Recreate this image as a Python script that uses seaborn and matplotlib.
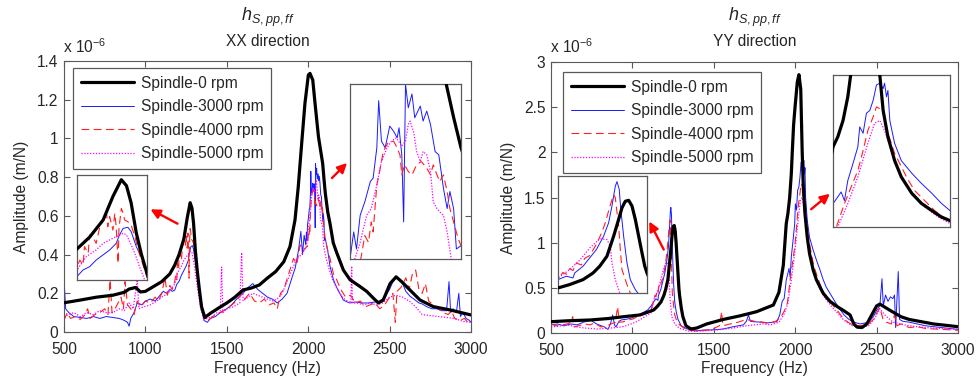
import numpy as np
import pandas as pd
import matplotlib
matplotlib.use('Agg')
import matplotlib.pyplot as plt
import seaborn as sns
from matplotlib.ticker import FuncFormatter, MultipleLocator

# 样式
sns.set_style('ticks')
plt.rcParams['font.family'] = ['Liberation Sans', 'DejaVu Sans']
plt.rcParams['mathtext.fontset'] = 'custom'
plt.rcParams['mathtext.rm'] = 'Liberation Sans'
plt.rcParams['mathtext.it'] = 'Liberation Sans:italic'

labels = ['Spindle-0 rpm', 'Spindle-3000 rpm', 'Spindle-4000 rpm', 'Spindle-5000 rpm']

# ---- XX 方向 (频率 Hz, 幅值 x 1e-6 m/N) ----
xx_0 = [(500,0.151),(600,0.165),(700,0.18),(800,0.19),(870,0.205),(900,0.222),(940,0.23),(970,0.207),
        (1000,0.21),(1050,0.235),(1100,0.26),(1150,0.30),(1180,0.345),(1207,0.40),(1236,0.48),(1257,0.59),
        (1275,0.668),(1286,0.64),(1296,0.56),(1307,0.42),(1318,0.32),(1330,0.23),(1345,0.13),(1365,0.075),
        (1400,0.097),(1450,0.124),(1500,0.15),(1550,0.18),(1600,0.217),(1650,0.227),(1700,0.243),(1750,0.279),
        (1800,0.312),(1850,0.363),(1888,0.441),(1919,0.579),(1939,0.751),(1960,0.975),(1980,1.181),(2001,1.328),
        (2011,1.336),(2028,1.302),(2042,1.181),(2063,1.009),(2089,0.87),(2097,0.79),(2105,0.717),(2120,0.62),
        (2134,0.56),(2154,0.46),(2175,0.41),(2216,0.32),(2257,0.27),(2318,0.235),(2359,0.21),(2400,0.175),
        (2431,0.15),(2461,0.165),(2503,0.25),(2540,0.285),(2574,0.26),(2625,0.217),(2687,0.165),(2769,0.131),
        (2871,0.114),(3000,0.088)]

xx_3000 = [(500,0.28),(510,0.12),(530,0.10),(560,0.08),(600,0.075),(640,0.07),(680,0.08),(720,0.07),(760,0.08),
           (800,0.075),(840,0.07),(870,0.06),(890,0.05),(900,0.03),(910,0.07),(930,0.10),(950,0.15),(980,0.14),
           (1000,0.16),(1030,0.17),(1060,0.16),(1090,0.19),(1110,0.21),(1130,0.20),(1150,0.22),(1165,0.21),
           (1180,0.216),(1193,0.247),(1207,0.262),(1221,0.293),(1236,0.317),(1250,0.34),(1264,0.371),(1271,0.41),
           (1279,0.441),(1289,0.446),(1296,0.426),(1307,0.356),(1318,0.309),(1330,0.231),
           (1345,0.12),(1360,0.06),(1380,0.05),(1400,0.07),(1430,0.08),(1460,0.10),(1500,0.12),(1530,0.14),
           (1560,0.17),(1600,0.20),(1630,0.23),(1660,0.25),(1690,0.22),(1720,0.20),(1750,0.18),(1780,0.17),
           (1810,0.15),(1840,0.17),(1870,0.20),(1900,0.28),(1920,0.33),(1940,0.42),(1955,0.52),(1965,0.40),(1975,0.50),
           (1985,0.45),(1989,0.515),(1992,0.474),(1996,0.555),(2001,0.587),(2007,0.636),(2010,0.644),(2014,0.717),
           (2016,0.83),(2019,0.733),(2023,0.717),(2028,0.769),(2032,0.757),(2036,0.741),(2038,0.765),(2041,0.70),
           (2043,0.539),(2045,0.87),(2048,0.813),(2052,0.846),(2055,0.789),(2061,0.817),(2064,0.781),(2068,0.805),
           (2072,0.773),(2077,0.708),(2081,0.70),(2086,0.62),(2090,0.571),(2093,0.612),(2097,0.571),(2100,0.474),
           (2105,0.482),
           (2120,0.42),(2134,0.34),(2155,0.27),(2175,0.23),(2200,0.19),(2216,0.165),(2240,0.155),(2257,0.15),
           (2290,0.155),(2330,0.15),(2370,0.15),(2410,0.155),(2440,0.16),(2470,0.18),(2500,0.22),(2520,0.26),
           (2540,0.28),(2560,0.27),(2580,0.25),(2600,0.21),(2625,0.185),(2650,0.17),(2680,0.15),(2700,0.145),
           (2730,0.13),(2760,0.12),(2790,0.12),(2820,0.11),(2850,0.11),(2865,0.26),(2875,0.10),(2890,0.12),
           (2910,0.10),(2925,0.20),(2935,0.08),(2950,0.10),(2970,0.07),(2990,0.06),(3000,0.05)]

xx_4000 = [(500,0.06),(520,0.10),(540,0.07),(570,0.08),(600,0.065),(630,0.09),(645,0.12),(660,0.07),(690,0.09),
           (720,0.10),(750,0.12),(770,0.09),(783,0.27),(795,0.10),(820,0.13),(850,0.18),(865,0.12),(875,0.26),
           (890,0.14),(910,0.12),(930,0.09),(950,0.16),(970,0.13),(1000,0.16),(1030,0.15),(1060,0.18),(1080,0.16),
           (1100,0.20),(1120,0.28),(1135,0.19),(1150,0.24),(1165,0.22),
           (1180,0.262),(1186,0.293),(1193,0.27),(1196,0.356),(1204,0.325),(1207,0.41),(1214,0.402),(1221,0.371),
           (1229,0.449),(1236,0.48),(1243,0.519),(1246,0.449),(1250,0.496),(1257,0.433),(1261,0.511),(1264,0.449),
           (1268,0.278),(1270,0.441),(1275,0.534),(1279,0.511),(1282,0.48),(1289,0.472),(1296,0.457),(1304,0.402),
           (1311,0.34),(1318,0.293),(1325,0.247),(1330,0.216),
           (1345,0.15),(1360,0.07),(1380,0.06),(1400,0.07),(1430,0.09),(1460,0.10),(1500,0.12),(1530,0.14),
           (1560,0.16),(1590,0.20),(1610,0.17),(1640,0.20),(1670,0.16),(1700,0.15),(1730,0.17),(1760,0.14),
           (1790,0.15),(1810,0.12),(1830,0.20),(1850,0.22),(1880,0.30),(1910,0.38),(1930,0.35),(1950,0.45),
           (1970,0.42),(1990,0.44),
           (1996,0.442),(2001,0.506),(2005,0.49),(2008,0.539),(2010,0.515),(2014,0.628),(2017,0.66),(2021,0.708),
           (2026,0.729),(2032,0.733),(2035,0.721),(2039,0.70),(2041,0.652),(2044,0.676),(2048,0.66),(2052,0.652),
           (2057,0.676),(2062,0.684),(2068,0.668),(2072,0.652),(2075,0.676),(2079,0.652),(2082,0.636),(2086,0.652),
           (2090,0.612),(2093,0.571),(2098,0.531),(2102,0.498),(2105,0.482),
           (2120,0.42),(2134,0.38),(2155,0.30),(2175,0.27),(2200,0.22),(2230,0.18),(2260,0.19),(2290,0.15),
           (2320,0.16),(2350,0.13),(2380,0.14),(2410,0.15),(2440,0.12),(2470,0.14),(2500,0.18),(2520,0.20),
           (2535,0.05),(2545,0.21),(2570,0.23),(2600,0.28),(2620,0.22),(2640,0.30),(2660,0.32),(2680,0.22),
           (2700,0.20),(2720,0.25),(2740,0.16),(2770,0.14),(2800,0.12),(2830,0.10),(2860,0.09),(2880,0.11),
           (2900,0.07),(2930,0.06),(2960,0.07),(2980,0.05),(3000,0.05)]

xx_5000 = [(500,0.08),(530,0.09),(560,0.10),(600,0.08),(640,0.10),(680,0.09),(720,0.11),(760,0.10),(800,0.10),
           (840,0.12),(870,0.11),(900,0.15),(925,0.12),(950,0.27),(960,0.12),(990,0.13),(1030,0.14),(1070,0.16),
           (1100,0.18),(1140,0.20),(1165,0.23),
           (1180,0.247),(1200,0.309),(1221,0.34),(1236,0.371),(1250,0.387),(1264,0.402),(1279,0.418),(1286,0.41),
           (1293,0.379),(1304,0.324),(1314,0.262),(1325,0.20),
           (1340,0.12),(1360,0.06),(1380,0.07),(1410,0.08),(1440,0.10),(1460,0.10),(1468,0.335),(1476,0.10),
           (1500,0.12),(1540,0.13),(1580,0.15),(1591,0.41),(1600,0.16),(1630,0.18),(1660,0.20),(1690,0.19),
           (1720,0.18),(1750,0.17),(1780,0.16),(1810,0.17),(1840,0.20),(1870,0.26),(1900,0.32),(1930,0.38),
           (1960,0.40),(1980,0.43),
           (1989,0.442),(1996,0.49),(2003,0.555),(2008,0.571),(2014,0.628),(2019,0.684),(2025,0.717),(2030,0.733),
           (2035,0.741),(2041,0.721),(2045,0.733),(2048,0.773),(2050,0.781),(2054,0.753),(2057,0.708),(2061,0.684),
           (2064,0.708),(2068,0.70),(2072,0.66),(2075,0.587),(2079,0.571),(2082,0.563),(2086,0.555),(2090,0.515),
           (2095,0.442),
           (2110,0.38),(2130,0.32),(2150,0.27),(2180,0.22),(2210,0.18),(2240,0.16),(2262,0.15),(2267,0.34),
           (2272,0.15),(2300,0.15),(2340,0.14),(2380,0.15),(2420,0.14),(2460,0.15),(2500,0.18),(2540,0.19),
           (2580,0.18),(2620,0.16),(2660,0.13),(2700,0.09),(2750,0.085),(2800,0.08),(2850,0.075),(2900,0.07),
           (2950,0.055),(3000,0.05)]

# ---- YY 方向 ----
yy_0 = [(500,0.125),(600,0.135),(740,0.144),(850,0.16),(944,0.18),(1047,0.20),(1108,0.24),(1130,0.254),
        (1151,0.29),(1175,0.343),(1193,0.414),(1205,0.486),(1218,0.593),(1230,0.807),(1239,0.986),(1245,1.11),
        (1251,1.18),(1257,1.19),(1263,1.13),(1269,0.986),(1275,0.807),(1281,0.629),(1286,0.486),(1290,0.414),
        (1300,0.28),(1310,0.18),(1329,0.08),(1360,0.045),(1395,0.055),(1456,0.10),(1558,0.15),(1661,0.19),
        (1763,0.236),(1866,0.31),(1900,0.45),(1927,0.75),(1945,1.21),(1955,1.32),(1966,1.50),(1976,1.76),
        (1982,2.0),(1990,2.3),(1999,2.5),(2013,2.78),(2023,2.86),(2034,2.70),(2043,2.0),(2050,1.61),
        (2060,1.32),(2074,1.06),(2088,0.88),(2110,0.70),(2130,0.59),(2152,0.51),(2172,0.44),(2190,0.40),
        (2214,0.35),(2260,0.29),(2296,0.25),(2337,0.20),(2360,0.10),(2380,0.065),(2410,0.06),(2440,0.10),
        (2470,0.20),(2500,0.30),(2520,0.32),(2583,0.25),(2650,0.18),(2700,0.15),(2850,0.10),(3000,0.07)]

yy_3000 = [(500,0.09),(540,0.10),(580,0.08),(623,0.10),(660,0.09),(700,0.12),(746,0.14),(780,0.10),(828,0.067),
           (850,0.04),(865,0.10),(879,0.20),(890,0.09),(899,0.067),(915,0.12),(930,0.144),(971,0.155),(1000,0.17),
           (1033,0.20),(1060,0.22),(1094,0.255),(1115,0.30),
           (1130,0.343),(1145,0.379),(1157,0.361),(1160,0.414),(1175,0.486),(1187,0.575),(1199,0.664),(1212,0.807),
           (1221,0.95),(1227,1.13),(1233,1.34),(1236,1.39),(1240,1.31),(1243,1.09),(1248,0.807),(1254,0.521),
           (1260,0.343),(1269,0.236),(1280,0.15),(1300,0.08),(1330,0.05),(1360,0.03),(1400,0.025),(1436,0.033),
           (1500,0.035),(1559,0.045),(1620,0.07),(1682,0.09),(1700,0.13),(1713,0.20),(1725,0.13),(1743,0.125),
           (1790,0.12),(1825,0.11),(1860,0.12),(1887,0.125),(1905,0.20),(1920,0.35),(1932,0.38),(1940,0.50),
           (1945,0.587),(1955,0.66),(1962,0.715),(1969,0.62),(1976,0.84),(1987,1.03),(1997,1.21),(2001,1.43),
           (2008,1.36),(2015,1.58),(2022,1.61),(2029,1.72),(2036,1.89),(2043,1.91),(2050,1.85),(2053,1.91),
           (2057,1.76),(2060,1.83),(2064,1.50),(2074,1.25),(2088,1.06),(2110,0.92),(2130,0.81),(2152,0.70),
           (2172,0.59),(2190,0.51),
           (2220,0.42),(2250,0.33),(2280,0.25),(2300,0.20),(2330,0.15),(2360,0.12),(2400,0.10),(2450,0.12),
           (2480,0.18),(2500,0.25),(2520,0.30),(2533,0.60),(2541,0.30),(2555,0.42),(2570,0.35),(2585,0.40),
           (2600,0.38),(2610,0.42),(2617,0.06),(2624,0.33),(2633,0.68),(2641,0.15),(2660,0.13),(2700,0.12),
           (2750,0.10),(2800,0.08),(2850,0.07),(2900,0.06),(2950,0.05),(3000,0.04)]

yy_4000 = [(500,0.10),(530,0.08),(561,0.089),(600,0.10),(625,0.12),(633,0.18),(643,0.067),(670,0.08),(705,0.10),
           (740,0.09),(766,0.11),(807,0.067),(840,0.08),(869,0.10),(895,0.12),(909,0.29),(920,0.12),(940,0.122),
           (970,0.14),(1002,0.155),(1030,0.18),(1053,0.21),(1080,0.23),(1114,0.255),
           (1130,0.35),(1139,0.42),(1145,0.40),(1151,0.46),(1157,0.44),(1163,0.52),(1172,0.50),(1178,0.57),
           (1187,0.60),(1199,0.72),(1209,0.85),(1215,0.95),(1224,1.14),(1230,1.25),(1233,1.22),(1239,0.914),
           (1242,0.664),(1245,0.45),(1249,0.379),(1254,0.29),(1260,0.20),(1275,0.12),(1290,0.09),(1320,0.05),
           (1360,0.03),(1400,0.02),(1450,0.03),(1500,0.05),(1535,0.08),(1548,0.236),(1556,0.08),(1600,0.10),
           (1650,0.12),(1700,0.15),(1750,0.13),(1800,0.12),(1850,0.11),(1880,0.13),(1910,0.17),(1935,0.25),
           (1952,0.33),(1969,0.587),(1983,0.77),(1997,0.95),(2008,1.17),(2018,1.39),(2029,1.54),(2036,1.65),
           (2043,1.63),(2050,1.58),(2060,1.36),(2074,1.14),(2095,0.92),(2102,0.85),(2116,0.73),(2137,0.62),
           (2158,0.51),(2180,0.42),(2190,0.385),
           (2220,0.33),(2250,0.27),(2300,0.15),(2350,0.09),(2400,0.08),(2450,0.10),(2480,0.15),(2500,0.22),
           (2520,0.28),(2540,0.15),(2560,0.12),(2590,0.10),(2610,0.20),(2625,0.08),(2650,0.10),(2700,0.06),
           (2750,0.07),(2800,0.05),(2900,0.04),(3000,0.03)]

yy_5000 = [(500,0.067),(550,0.075),(602,0.089),(650,0.07),(705,0.055),(750,0.05),(787,0.044),(830,0.05),
           (869,0.055),(900,0.06),(930,0.067),(960,0.08),(991,0.10),(1020,0.12),(1053,0.155),(1085,0.19),(1114,0.22),
           (1130,0.36),(1151,0.45),(1169,0.55),(1187,0.68),(1205,0.78),(1218,0.771),(1224,0.70),(1227,0.521),
           (1233,0.343),(1239,0.236),(1242,0.18),(1260,0.10),(1290,0.05),(1350,0.02),(1400,0.02),(1500,0.03),
           (1600,0.05),(1700,0.08),(1800,0.10),(1850,0.09),(1900,0.12),(1930,0.20),
           (1955,0.33),(1976,0.587),(1997,0.88),(2018,1.25),(2032,1.47),(2043,1.50),(2053,1.39),(2067,1.17),
           (2088,0.88),(2110,0.70),(2137,0.55),(2165,0.44),(2190,0.37),
           (2220,0.30),(2250,0.24),(2300,0.14),(2350,0.08),(2400,0.06),(2450,0.08),(2480,0.14),(2500,0.20),
           (2520,0.27),(2550,0.20),(2600,0.12),(2650,0.10),(2700,0.08),(2800,0.06),(2900,0.05),(3000,0.04)]

# 线型: 黑粗实线 / 蓝细实线 / 红虚线 / 品红点线
styles = [dict(color='black', lw=2.3, ls='-'),
          dict(color='#1a1aff', lw=0.7, ls='-'),
          dict(color='#ff2020', lw=0.8, ls=(0, (7, 4))),
          dict(color='#ff00ff', lw=0.9, ls=(0, (1, 1.3)))]


def draw_lines(ax, series, with_label=False):
    for k, pts in enumerate(series):
        df = pd.DataFrame(pts, columns=['f', 'amp'])
        st = styles[k]
        sns.lineplot(data=df, x='f', y='amp', ax=ax, color=st['color'], lw=st['lw'],
                     linestyle=st['ls'], label=labels[k] if with_label else None,
                     legend=False, estimator=None, sort=False)
    # 黑线放在上面
    ax.lines[0].set_zorder(3)


fig = plt.figure(figsize=(9.77, 3.79), dpi=100)
W, H = 977, 379


def px_box(x0, y0, x1, y1):
    return [x0 / W, 1 - y1 / H, (x1 - x0) / W, (y1 - y0) / H]


def fx(px):
    return px / W


def fy(py):
    return 1 - py / H


panels = [
    dict(series=[xx_0, xx_3000, xx_4000, xx_5000], box=(64, 61, 471, 332), ymax=1.4, ystep=0.2,
         name='XX direction', leg=(0.022, 0.974),
         insets=[dict(box=(77, 175, 147, 280), xl=(1180, 1330), yl=(0.2, 0.69),
                      arrow=((180, 225), (148, 208))),
                 dict(box=(350, 84, 461, 259), xl=(1985, 2105), yl=(0.45, 0.87),
                      arrow=((330, 180), (349, 161)))]),
    dict(series=[yy_0, yy_3000, yy_4000, yy_5000], box=(551, 62, 958, 333), ymax=3.0, ystep=0.5,
         name='YY direction', leg=(0.0295, 0.963),
         insets=[dict(box=(558, 176, 647, 293), xl=(1130, 1290), yl=(0.2, 1.45),
                      arrow=((665, 252), (648, 219))),
                 dict(box=(833, 75, 950, 227), xl=(1945, 2190), yl=(0.33, 2.0),
                      arrow=((809, 211), (832, 192)))]),
]

fmt = FuncFormatter(lambda v, p: '%g' % round(v, 6))
FS = 11.2

for pn in panels:
    x0, y0, x1, y1 = pn['box']
    ax = fig.add_axes(px_box(x0, y0, x1, y1))
    draw_lines(ax, pn['series'], with_label=True)
    ax.set_xlim(500, 3000)
    ax.set_ylim(0, pn['ymax'])
    ax.xaxis.set_major_locator(MultipleLocator(500))
    ax.yaxis.set_major_locator(MultipleLocator(pn['ystep']))
    ax.yaxis.set_major_formatter(fmt)
    ax.tick_params(direction='in', top=True, right=True, length=4, width=0.8,
                   labelsize=FS, color='0.35', pad=4)
    ax.tick_params(axis='x', pad=7)
    for s in ax.spines.values():
        s.set_color('0.35')
        s.set_linewidth(0.8)
    ax.set_xlabel('')
    ax.set_ylabel('')

    leg = ax.legend(loc='upper left', bbox_to_anchor=pn['leg'], borderaxespad=0,
                    fancybox=False, edgecolor='0.35', framealpha=1, fontsize=FS,
                    handlelength=3.4, labelspacing=0.55, borderpad=0.5, handletextpad=0.45)
    leg.get_frame().set_linewidth(0.9)

    cx = (x0 + x1) / 2
    fig.text(fx(cx), fy(17), r'$h_{S,pp,ff}$', ha='center', va='center', fontsize=13)
    fig.text(fx(cx), fy(42), pn['name'], ha='center', va='center', fontsize=FS)
    fig.text(fx(x0 - 1), fy(47), r'x 10$^{\mathregular{-6}}$', ha='left', va='center', fontsize=FS)
    fig.text(fx(x0 - 42), fy((y0 + y1) / 2), 'Amplitude (m/N)', rotation=90,
             ha='center', va='center', fontsize=FS)
    fig.text(fx(cx), fy(369), 'Frequency (Hz)', ha='center', va='center', fontsize=FS)

    for ins in pn['insets']:
        bx0, by0, bx1, by1 = ins['box']
        iax = fig.add_axes(px_box(bx0, by0, bx1, by1))
        iax.set_facecolor('white')
        draw_lines(iax, pn['series'])
        iax.set_xlim(*ins['xl'])
        iax.set_ylim(*ins['yl'])
        iax.set_xticks([])
        iax.set_yticks([])
        iax.set_xlabel('')
        iax.set_ylabel('')
        for s in iax.spines.values():
            s.set_color('0.35')
            s.set_linewidth(0.9)
        (tx, ty), (hx, hy) = ins['arrow']
        fig.patches.append(matplotlib.patches.FancyArrowPatch(
            (fx(tx), fy(ty)), (fx(hx), fy(hy)), transform=fig.transFigure,
            arrowstyle='-|>', mutation_scale=14, color='red', lw=1.7, figure=fig))

fig.savefig('out.png', dpi=100)
